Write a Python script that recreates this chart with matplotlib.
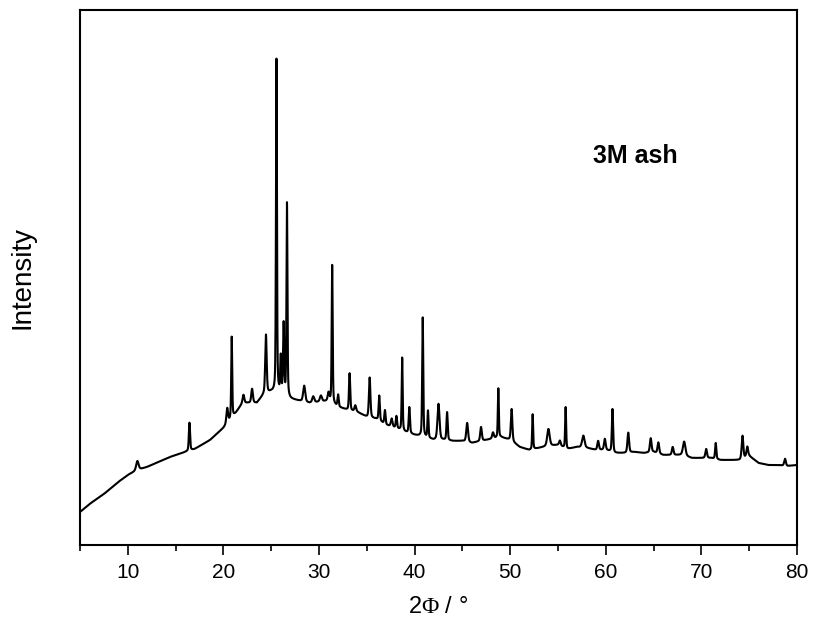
import numpy as np
import matplotlib
matplotlib.use("Agg")
import matplotlib.pyplot as plt

plt.rcParams["font.family"] = ["Liberation Sans", "DejaVu Sans"]
plt.rcParams["mathtext.fontset"] = "custom"
plt.rcParams["mathtext.rm"] = "Liberation Serif"

# background (amorphous hump): 2theta, intensity (a.u.)
bg_2theta = [5, 6, 7.5, 9, 10, 11, 12, 14.4, 16, 17, 18.6, 20, 21.3, 22, 23.5, 24.2, 25,
             26, 27, 28, 29, 30, 31, 32, 33, 34, 35, 36, 37, 38, 39, 40,
             41, 42, 43, 44, 45, 46, 47, 48, 49, 50, 51, 52, 53, 54, 55,
             56, 57, 58, 59, 60, 61, 62, 63, 64, 65, 66, 67, 68, 69, 70,
             71, 72, 73, 74, 75, 76, 77, 78, 79, 80]
bg_int = [33, 41, 51, 63, 70, 75, 78, 88, 93, 96, 105, 117, 132, 142, 142, 150, 153,
          152, 146, 144, 142, 143, 144, 138, 135, 133, 128, 126, 120, 117, 113, 110,
          108, 105, 105, 104, 104, 102, 104, 106, 108, 105, 98, 95, 97, 99, 100,
          96, 98, 97, 95, 95, 92, 92, 93, 92, 93, 90, 90, 90, 87, 87,
          87, 85, 85, 85, 89, 82, 80, 80, 79, 80]

# reflections: position (2theta), height above background, width (deg)
pk_pos = [11.0, 16.45, 20.4, 20.87, 22.1, 23.0, 24.45, 25.55, 26.0, 26.3,
          26.65, 28.45, 29.4, 30.2, 31.0, 31.38, 32.0, 33.2, 33.8, 35.3,
          36.3, 36.9, 37.6, 38.1, 38.7, 39.45, 40.85, 41.4, 42.5, 43.4,
          45.5, 46.95, 48.2, 48.76, 50.15, 52.35, 54.0, 55.2, 55.8, 57.65,
          59.2, 59.9, 60.7, 62.35, 64.7, 65.5, 67.0, 68.2, 70.5, 71.5,
          74.3, 74.8, 78.75]
pk_height = [9, 28, 15, 81, 8, 14, 59, 333, 35, 70,
             193, 16, 6, 6, 8, 138, 12, 37, 6, 40,
             25, 14, 8, 12, 73, 26, 119, 27, 36, 28,
             19, 14, 6, 49, 32, 35, 17, 5, 41, 12,
             9, 11, 43, 20, 14, 11, 8, 14, 9, 16,
             23, 10, 7]
pk_width = [0.3, 0.15, 0.2, 0.12, 0.2, 0.2, 0.18, 0.12, 0.12, 0.14,
            0.12, 0.25, 0.25, 0.25, 0.2, 0.12, 0.15, 0.15, 0.2, 0.18,
            0.15, 0.15, 0.2, 0.15, 0.12, 0.15, 0.13, 0.13, 0.25, 0.15,
            0.22, 0.2, 0.2, 0.12, 0.18, 0.12, 0.3, 0.2, 0.12, 0.3,
            0.2, 0.2, 0.15, 0.2, 0.2, 0.2, 0.2, 0.3, 0.2, 0.15,
            0.2, 0.2, 0.2]

two_theta = np.linspace(5, 80, 7501)
intensity = np.interp(two_theta, bg_2theta, bg_int)
for p, h, w in zip(pk_pos, pk_height, pk_width):
    d = (two_theta - p) / w
    gauss = np.exp(-4 * np.log(2) * d ** 2)
    lor = 1 / (1 + 4 * d ** 2)
    intensity += h * (0.6 * gauss + 0.4 * lor)

fig = plt.figure(figsize=(8.13, 6.30), dpi=100)
ax = fig.add_axes([0.0984, 0.1349, 0.8819, 0.8492])
ax.plot(two_theta, intensity, color="black", lw=1.5)

ax.set_xlim(5, 80)
ax.set_ylim(0, 535)
ax.set_xticks(np.arange(10, 81, 10))
ax.set_xticks(np.arange(5, 81, 10), minor=True)
ax.set_yticks([])
ax.tick_params(axis="x", which="major", direction="out", length=7, width=1.2,
               labelsize=15, pad=6)
ax.tick_params(axis="x", which="minor", direction="out", length=4, width=1.2)
for s in ax.spines.values():
    s.set_linewidth(1.5)

ax.set_xlabel(r"2$\mathrm{\Phi}$ / °", fontsize=17, labelpad=10)
ax.set_ylabel("Intensity", fontsize=20, labelpad=32)
ax.text(0.775, 0.727, "3M ash", transform=ax.transAxes, fontsize=18,
        fontweight="bold", ha="center", va="center")

fig.savefig("out.png", dpi=100)
